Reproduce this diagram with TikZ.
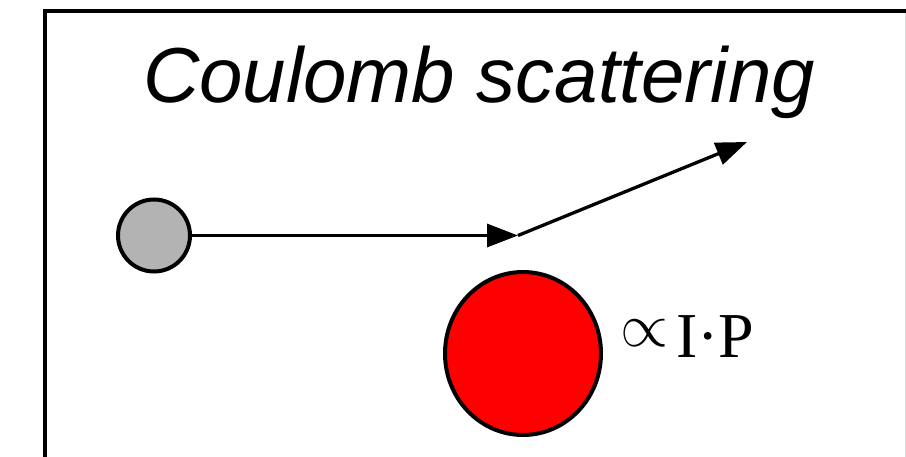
\documentclass[tikz,border=0pt]{standalone}
\usepackage{fontspec}
\setmainfont{Liberation Serif}
\newfontfamily\arialfont{Liberation Sans}
\usetikzlibrary{arrows.meta,shapes.geometric}
\begin{document}
\begin{tikzpicture}[x=1pt,y=-1pt,
  frameline/.style={line width=4pt},
  ball/.style={circle,draw,line width=4pt,inner sep=0pt},
  track/.style={line width=3.3pt,-{Triangle[length=31pt,width=23pt]}}]
\useasboundingbox (0,0) rectangle (906,457);
\fill[white] (0,0) rectangle (906,457);
\draw[frameline] (44.5,459) -- (44.5,11.5) -- (908,11.5);
\draw[gray!30,line width=1pt] (905.5,13.5) -- (905.5,457);
\node[anchor=base,inner sep=0pt] (title) at (479,103)
  {\arialfont\itshape\fontsize{78}{84}\selectfont Coulomb scattering};
\node[ball,fill={rgb,255:red,179;green,179;blue,179},minimum size=72pt] (p) at (154,235.5) {};
\node[ellipse,draw,line width=4pt,inner sep=0pt,fill={rgb,255:red,255;green,0;blue,0},
  minimum width=156pt,minimum height=163pt] (nuc) at (523,353.5) {};
\coordinate (hit) at (518,235.5);
\coordinate (out) at (747,142);
\draw[track] (p) -- (hit);
\draw[track] (hit) -- (out);
\node[anchor=base west,inner sep=0pt] (lab) at (620,358)
  {\fontsize{64}{70}\selectfont\raisebox{11pt}{\resizebox{48pt}{!}{$\propto$}}\kern8pt I·P};
\end{tikzpicture}
\end{document}
